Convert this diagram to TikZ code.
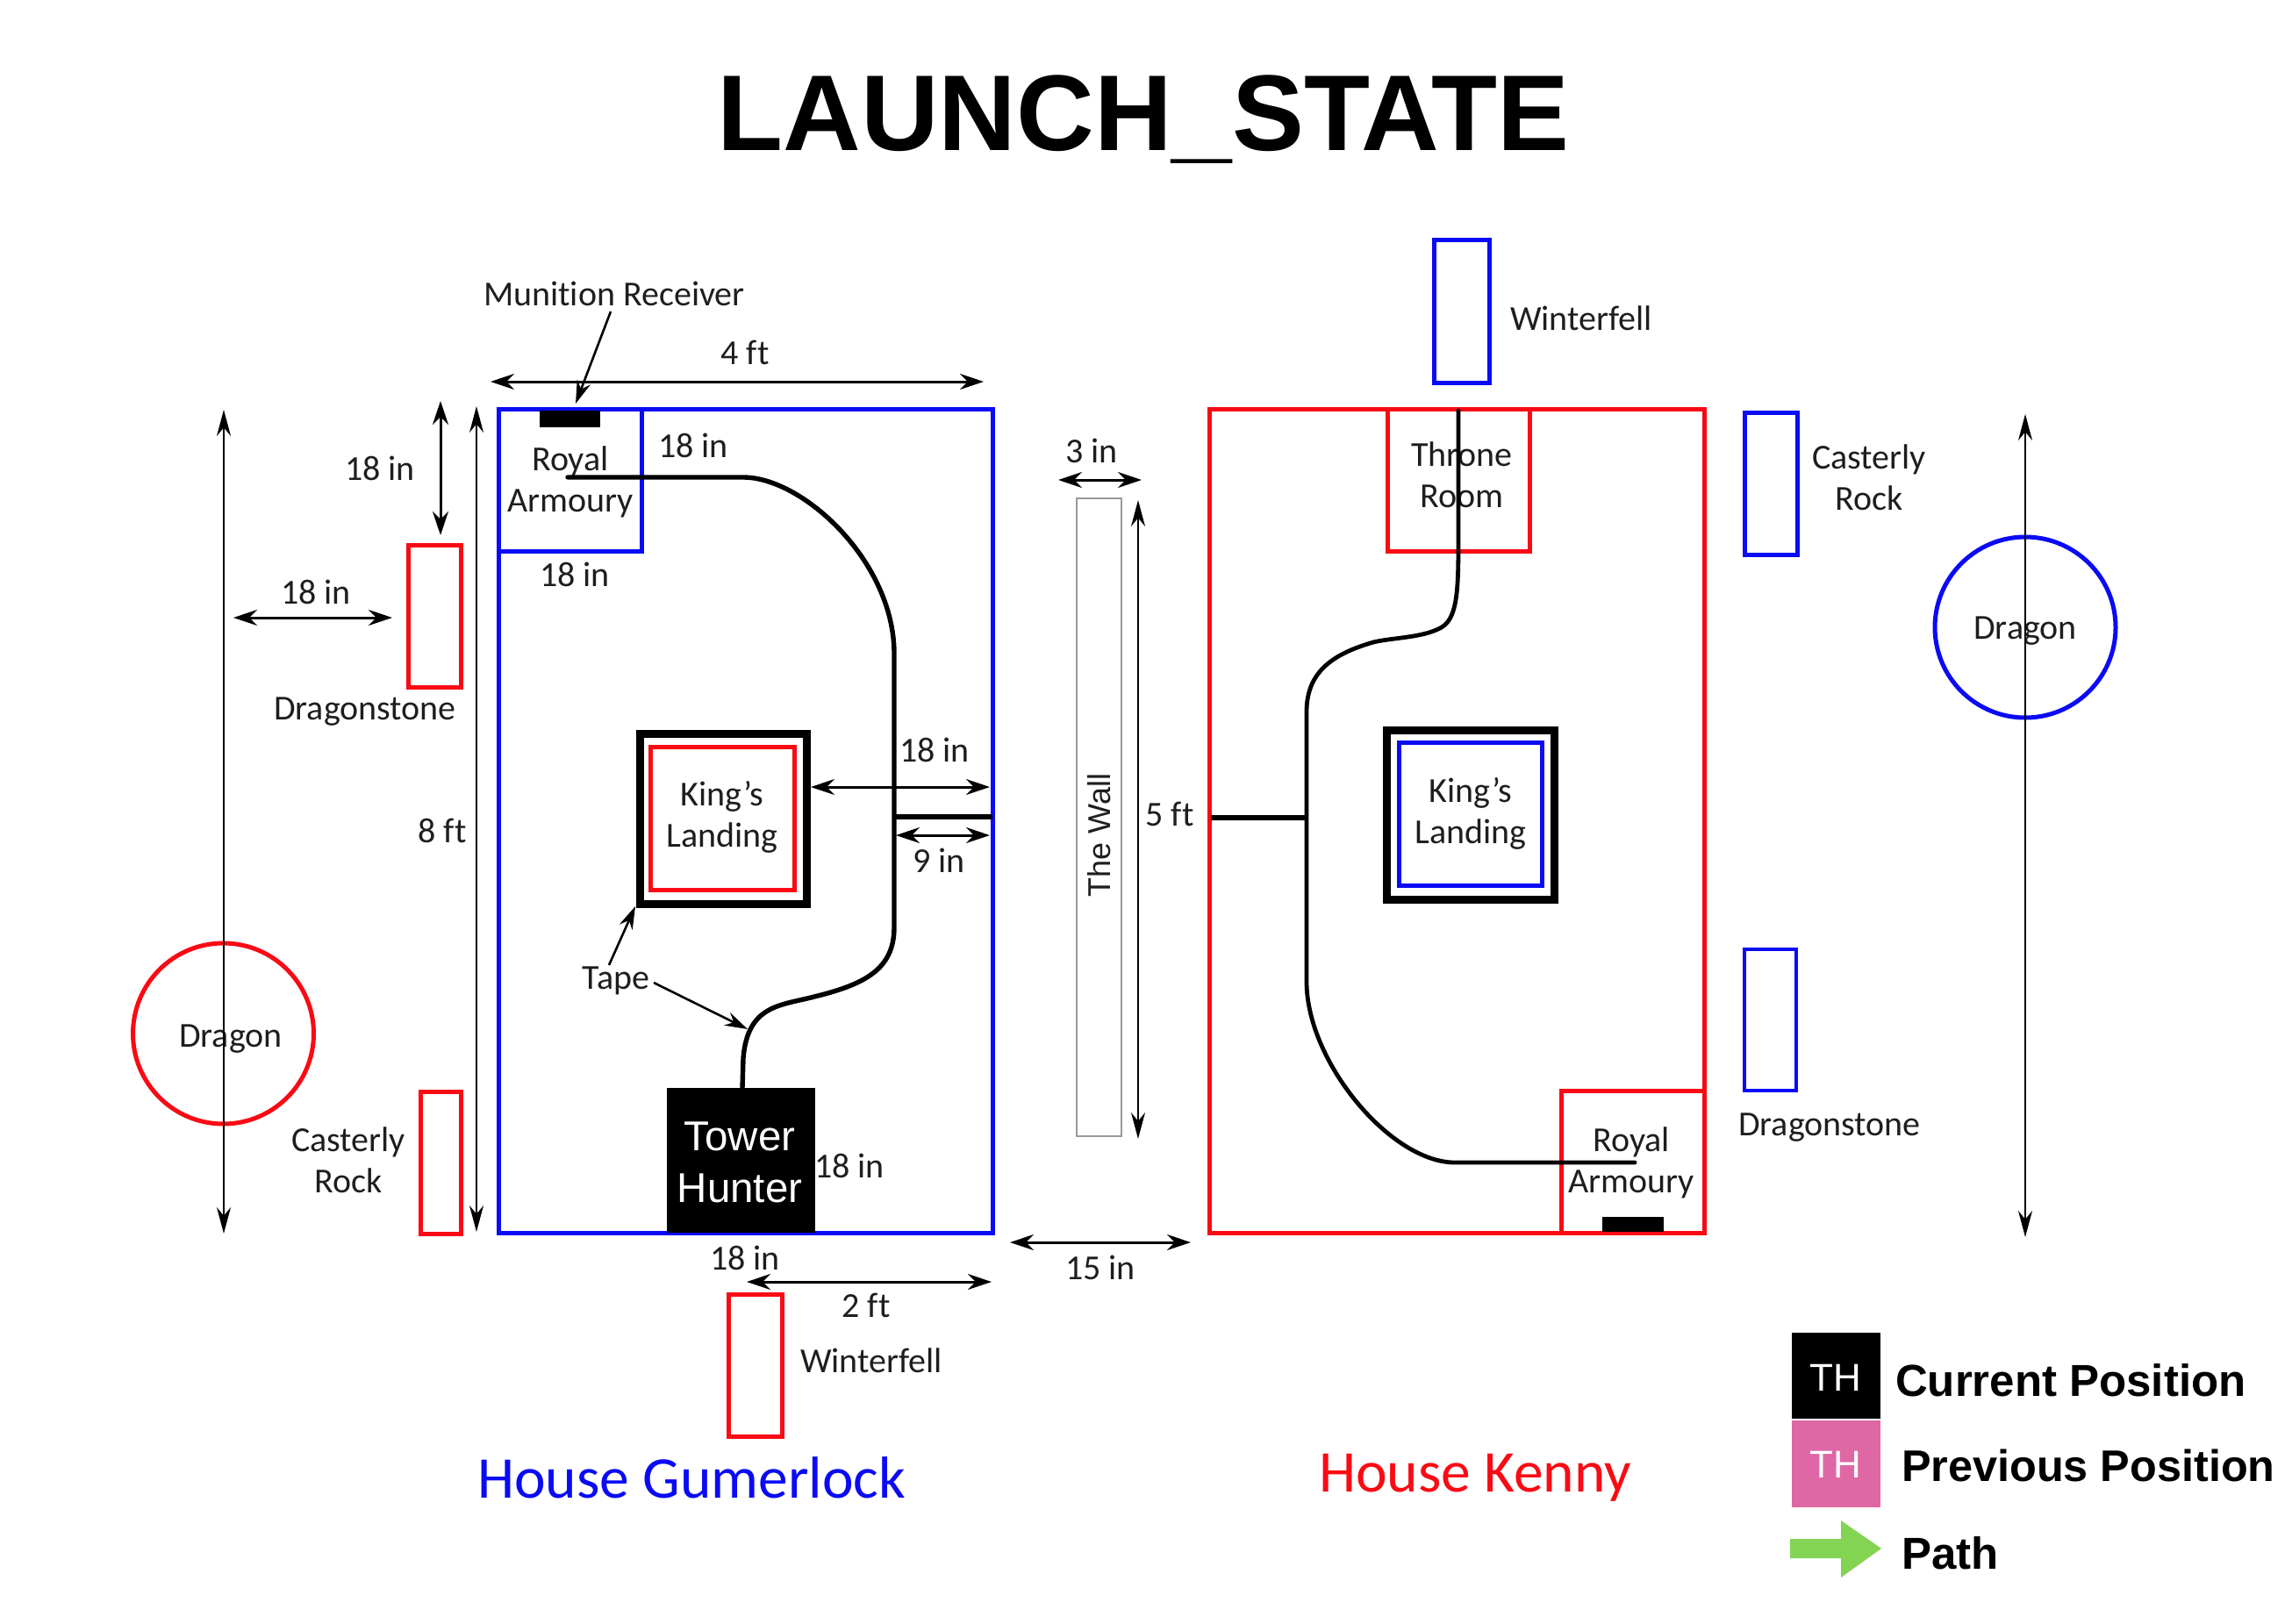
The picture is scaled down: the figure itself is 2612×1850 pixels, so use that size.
\documentclass[tikz,border=0pt]{standalone}
\usepackage{fontspec}
\setmainfont[Ligatures=NoCommon]{Carlito}
\newfontfamily\hel{Liberation Sans}
\usetikzlibrary{arrows.meta}
\definecolor{gblue}{RGB}{10,10,245}
\definecolor{gred}{RGB}{250,10,20}
\definecolor{ink}{RGB}{30,30,30}
\definecolor{pinkth}{RGB}{223,103,165}
\definecolor{greenarrow}{RGB}{132,212,84}
\tikzset{
  x=1pt,y=-1pt,
  lbl/.style={inner sep=0pt,outer sep=0pt,text=ink,font=\fontsize{40}{44}\selectfont,align=center},
  boxb/.style={draw=gblue,line width=5pt,inner sep=0pt,outer sep=0pt},
  boxr/.style={draw=gred,line width=5pt,inner sep=0pt,outer sep=0pt},
  boxk/.style={draw=black,line width=9pt,inner sep=0pt,outer sep=0pt},
  solidk/.style={fill=black,inner sep=0pt,outer sep=0pt},
  dim/.style={draw=black,line width=3pt,{Stealth[length=27pt,width=18pt]}-{Stealth[length=27pt,width=18pt]}},
  longdim/.style={draw=black,line width=2.2pt,{Stealth[length=30pt,width=16pt]}-{Stealth[length=30pt,width=16pt]}},
  lead/.style={draw=black,line width=2.6pt,-{Stealth[length=26pt,width=16pt]}},
  tape/.style={draw=black,line width=5.4pt,line cap=round},
  legendtxt/.style={inner sep=0pt,outer sep=0pt,font=\hel\bfseries\fontsize{51}{56}\selectfont,anchor=west},
  thtxt/.style={inner sep=0pt,outer sep=0pt,text=white,font=\hel\fontsize{44}{48}\selectfont},
}
\newcommand{\bx}[6]{%
  \pgfmathsetmacro{\cxv}{(#2+#4)/2}\pgfmathsetmacro{\cyv}{(#3+#5)/2}%
  \pgfmathsetmacro{\wv}{#4-#2}\pgfmathsetmacro{\hv}{#5-#3}%
  \node[#6,minimum width=\wv pt,minimum height=\hv pt] (#1) at (\cxv,\cyv) {};}
\begin{document}
\begin{tikzpicture}
\useasboundingbox (0,0) rectangle (2612,1850);
% title
\node[inner sep=0pt,font=\hel\bfseries\fontsize{122.8}{130}\selectfont,text=black] (title) at (1303,136) {LAUNCH\_STATE};

% ---- House Gumerlock ----
\bx{gfield}{568}{466}{1131}{1405}{boxb}
\bx{garm}{568}{466}{731}{628}{boxb}
\bx{grecv}{615}{468}{684}{487}{solidk}
\bx{gkout}{729}{836}{919}{1030}{boxk}
\bx{gkin}{741}{851}{905}{1014}{boxr}
\bx{gth}{760}{1240}{929}{1405}{solidk}
\bx{gds}{465}{621}{525}{783}{boxr}
\bx{gcr}{479}{1244}{525}{1406}{boxr}
\bx{gwf}{830}{1475}{891}{1637}{boxr}
\node[draw=gred,line width=5pt,circle,inner sep=0pt,minimum size=206pt] (gdragon) at (254.5,1178) {};

\node[lbl] (garmt) at (650,549) {Royal\\[3pt]Armoury};
\node[lbl] (gkt) at (823,931) {King’s\\[3pt]Landing};
\node[inner sep=0pt,text=white,align=center,font=\hel\fontsize{47.5}{59}\selectfont] (ghunter) at (843,1325) {Tower\\Hunter};
\node[lbl] (mun) at (700,335) {Munition Receiver};
\node[lbl] (g4ft) at (849,402) {4 ft};
\node[lbl] (g18a) at (790,508) {18 in};
\node[lbl] (g18b) at (655,655) {18 in};
\node[lbl] (g18c) at (433,534) {18 in};
\node[lbl] (g18d) at (360,675) {18 in};
\node[lbl] (gdst) at (416,811) {Dragonstone};
\node[lbl] (g8ft) at (504,947) {8 ft};
\node[lbl] (g18e) at (1065,855) {18 in};
\node[lbl] (g9in) at (1070,981) {9 in};
\node[lbl] (tapet) at (702,1118) {Tape};
\node[lbl] (g18f) at (968,1329) {18 in};
\node[lbl] (gcrt) at (397,1322) {Casterly\\[3pt]Rock};
\node[lbl] (g18g) at (849,1434) {18 in};
\node[lbl] (g2ft) at (987,1488) {2 ft};
\node[lbl] (gwft) at (993,1551) {Winterfell};
\node[lbl] (gdrt) at (263,1184) {Dragon};
\node[lbl,text=gblue,font=\fontsize{67.5}{70}\selectfont] (ghouse) at (788,1684) {House Gumerlock};

% tape on the Gumerlock field
\coordinate (gp0) at (647,544);
\coordinate (gp1) at (847,544);
\coordinate (gp2) at (1019,745);
\coordinate (gp3) at (1019,1057);
\coordinate (gp4) at (928,1136);
\coordinate (gp5) at (847,1206);
\coordinate (gp6) at (846,1240);
\coordinate (gb0) at (1019,931);
\coordinate (gb1) at (1131,931);
\draw[tape] (gp0) -- (gp1) .. controls (915,544) and (1019,640) .. (gp2) -- (gp3)
  .. controls (1019,1105) and (985,1122) .. (gp4) .. controls (890,1146) and (852,1145) .. (gp5) -- (gp6);
\draw[tape,line cap=butt] (gb0) -- (gb1);

% Gumerlock dimensions
\coordinate (d4a) at (559,435); \coordinate (d4b) at (1121,435);
\draw[dim] (d4a) -- (d4b);
\coordinate (l0) at (696,355); \coordinate (l1) at (656,460);
\draw[lead] (l0) -- (l1);
\coordinate (d18a) at (502,457); \coordinate (d18b) at (502,610);
\draw[dim] (d18a) -- (d18b);
\coordinate (d18c) at (266,704); \coordinate (d18d) at (447,704);
\draw[dim] (d18c) -- (d18d);
\coordinate (gla) at (255,467); \coordinate (glb) at (255,1406);
\draw[longdim] (gla) -- (glb);
\coordinate (d8a) at (543,463); \coordinate (d8b) at (543,1404);
\draw[longdim] (d8a) -- (d8b);
\coordinate (d18e) at (924,897); \coordinate (d18f) at (1128,897);
\draw[dim] (d18e) -- (d18f);
\coordinate (d9a) at (1021,952); \coordinate (d9b) at (1128,952);
\draw[dim] (d9a) -- (d9b);
\coordinate (t0) at (694,1100); \coordinate (t1) at (724,1033);
\draw[lead] (t0) -- (t1);
\coordinate (t2) at (745,1120); \coordinate (t3) at (852,1173);
\draw[lead] (t2) -- (t3);
\coordinate (d2a) at (851,1461); \coordinate (d2b) at (1130,1461);
\draw[dim] (d2a) -- (d2b);
\coordinate (d15a) at (1151,1416); \coordinate (d15b) at (1357,1416);
\draw[dim] (d15a) -- (d15b);
\node[lbl] (l15) at (1254,1445) {15 in};

% ---- The Wall ----
\bx{wall}{1227}{568}{1278}{1295}{draw=black!40,line width=2pt,inner sep=0pt,outer sep=0pt}
\node[inner sep=0pt,rotate=90,text=ink,font=\hel\fontsize{36}{40}\selectfont] (wallt) at (1253,952) {The Wall};
\coordinate (d3a) at (1206,547); \coordinate (d3b) at (1301,547);
\draw[dim] (d3a) -- (d3b);
\node[lbl] (l3) at (1244,514) {3 in};
\coordinate (d5a) at (1297,570); \coordinate (d5b) at (1297,1298);
\draw[longdim] (d5a) -- (d5b);
\node[lbl] (l5) at (1333,928) {5 ft};

% ---- House Kenny ----
\bx{kfield}{1378}{466}{1942}{1405}{boxr}
\bx{kthr}{1581}{466}{1743}{628}{boxr}
\bx{karm}{1779}{1243}{1942}{1405}{boxr}
\bx{krecv}{1826}{1387}{1896}{1404}{solidk}
\bx{kkout}{1580}{832}{1771}{1025}{boxk}
\bx{kkin}{1594}{846}{1757}{1009}{boxb}
\bx{kwf}{1634}{273}{1697}{436}{boxb}
\bx{kcr}{1988}{470}{2048}{632}{boxb}
\bx{kds}{1988}{1082}{2047}{1243}{draw=gblue,line width=3.6pt,inner sep=0pt,outer sep=0pt}
\node[draw=gblue,line width=5pt,circle,inner sep=0pt,minimum size=206pt] (kdragon) at (2308,715) {};

\node[lbl] (kthrt) at (1666,541) {Throne\\[3pt]Room};
\node[lbl] (kkt) at (1676,927) {King’s\\[3pt]Landing};
\node[lbl] (karmt) at (1859,1325) {Royal\\[3pt]Armoury};
\node[lbl] (kwft) at (1802,363) {Winterfell};
\node[lbl] (kcrt) at (2130,544) {Casterly\\[3pt]Rock};
\node[lbl] (kdrt) at (2308,719) {Dragon};
\node[lbl] (kdst) at (2085,1285) {Dragonstone};
\node[lbl,text=gred,font=\fontsize{67.5}{70}\selectfont] (khouse) at (1681,1684) {House Kenny};

\coordinate (kp0) at (1662,468);
\coordinate (kp1) at (1662,617);
\coordinate (kp2) at (1639,717);
\coordinate (kp3) at (1565,732);
\coordinate (kp4) at (1489,811);
\coordinate (kp5) at (1489,1119);
\coordinate (kp6) at (1658,1325);
\coordinate (kp7) at (1863,1325);
\coordinate (kb0) at (1380,932);
\coordinate (kb1) at (1489,932);
\draw[tape,line width=4.8pt] (kp0) -- (kp1) .. controls (1662,680) and (1660,708) .. (kp2)
  .. controls (1618,727) and (1585,727) .. (kp3) .. controls (1520,745) and (1489,765) .. (kp4)
  -- (kp5) .. controls (1489,1210) and (1585,1325) .. (kp6) -- (kp7);
\draw[tape,line cap=butt] (kb0) -- (kb1);
\coordinate (kla) at (2308,472); \coordinate (klb) at (2308,1410);
\draw[longdim] (kla) -- (klb);

% ---- Legend ----
\bx{lgk}{2042}{1519}{2143}{1617}{solidk}
\bx{lgp}{2042}{1619}{2143}{1718}{fill=pinkth,inner sep=0pt,outer sep=0pt}
\node[thtxt] (lgkt) at (2092,1570) {TH};
\node[thtxt] (lgpt) at (2092,1669) {TH};
\node[legendtxt] (lg1) at (2160,1573) {Current Position};
\node[legendtxt,font=\hel\bfseries\fontsize{50.4}{56}\selectfont] (lg2) at (2167,1670) {Previous Position};
\node[legendtxt] (lg3) at (2167,1770) {Path};
\fill[greenarrow] (2040,1754) -- (2098,1754) -- (2098,1733) -- (2144,1765) -- (2098,1798) -- (2098,1776) -- (2040,1776) -- cycle;
\end{tikzpicture}
\end{document}
